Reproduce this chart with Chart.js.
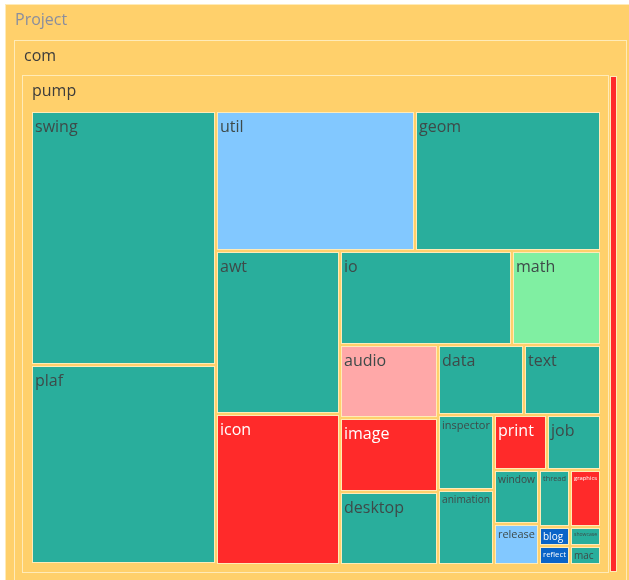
<!DOCTYPE html>
<html>
<head>
<meta charset="utf-8">
<title>Project treemap</title>
<script src="https://cdn.jsdelivr.net/npm/chart.js@4/dist/chart.umd.min.js"></script>
<style>
  html, body { margin: 0; padding: 0; background: #fff; }
  #wrap { width: 629px; height: 580px; position: relative; }
</style>
</head>
<body>
<div id="wrap"><canvas id="chart"></canvas></div>
<script>
// ===== Data (leaves of com/pump) =====
const GROUPS = ["Project", "com", "pump"];

const PUMP_LABELS = ["swing", "plaf", "util", "geom", "awt", "icon", "io", "math",
  "audio", "image", "desktop", "data", "text", "inspector", "animation", "print",
  "job", "window", "release", "thread", "graphics", "blog", "reflect", "showcase", "mac"];
const PUMP_VALUES = [47300, 37190, 28200, 26230, 20420, 18740, 16170, 8410,
  7250, 7200, 7180, 6020, 5430, 4220, 4200, 3020,
  3000, 2430, 1820, 1770, 1760, 595, 594, 593, 592];
const PUMP_KINDS = ["t", "t", "lb", "t", "t", "r", "t", "g",
  "p", "r", "t", "t", "t", "t", "t", "r",
  "t", "t", "lb", "t", "r", "b", "b", "t", "t"];

// com has one more (tiny) leaf next to pump
const COM_LABELS = ["misc"];
const COM_VALUES = [3800];
const COM_KINDS = ["r"];

// ===== Styles =====
const FILL = { t: "#29ae9c", lb: "#82c8ff", g: "#80efa2", p: "#ffa8a8", r: "#ff2a2a", b: "#0a64c8" };
const INK = { t: "#3e4a49", lb: "#3e4a49", g: "#3e4a49", p: "#3e4a49", r: "#ffffff", b: "#ffffff" };
const YELLOW = "#ffd06b";
const CREAM = "#ffebb8";
const FONT = "'Open Sans', sans-serif";
const PAD = 8.5, CAPTION = 35.5;
const ROOT = { x0: 5, y0: 4, x1: 635, y1: 590 };

// ===== Squarified layout (data units) =====
function worst(row, side) {
  const s = row.reduce((a, b) => a + b, 0);
  const mx = Math.max(...row), mn = Math.min(...row);
  return Math.max(side * side * mx / (s * s), (s * s) / (side * side * mn));
}

function squarify(values, r) {
  let x = r.x0, y = r.y0, w = r.x1 - r.x0, h = r.y1 - r.y0;
  const total = values.reduce((a, b) => a + b, 0);
  const areas = values.map(v => v * w * h / total);
  const out = [];
  let i = 0;
  while (i < areas.length) {
    const side = Math.min(w, h);
    const row = [];
    let best = Infinity;
    while (i < areas.length) {
      const cand = row.concat(areas[i]);
      const wr = worst(cand, side);
      if (row.length && wr > best) break;
      row.push(areas[i]); best = wr; i++;
    }
    const sum = row.reduce((a, b) => a + b, 0);
    if (w >= h) {
      const cw = sum / h;
      let yy = y;
      row.forEach(a => { const hh = a / cw; out.push({ x0: x, y0: yy, x1: x + cw, y1: yy + hh }); yy += hh; });
      x += cw; w -= cw;
    } else {
      const rh = sum / w;
      let xx = x;
      row.forEach(a => { const ww = a / rh; out.push({ x0: xx, y0: y, x1: xx + ww, y1: y + rh }); xx += ww; });
      y += rh; h -= rh;
    }
  }
  return out;
}

const inner = (r) => ({ x0: r.x0 + PAD, y0: r.y0 + CAPTION, x1: r.x1 - PAD, y1: r.y1 - PAD });

// ===== Plugin: draws the treemap through the chart's scales =====
const treemapPlugin = {
  id: "treemap",
  afterDatasetsDraw(chart) {
    const { ctx, scales: { x, y } } = chart;
    const px = (r) => ({
      L: Math.round(x.getPixelForValue(r.x0)), R: Math.round(x.getPixelForValue(r.x1)),
      T: Math.round(y.getPixelForValue(r.y0)), B: Math.round(y.getPixelForValue(r.y1))
    });

    function drawGroup(r, name, color) {
      const p = px(r);
      ctx.fillStyle = YELLOW;
      ctx.fillRect(p.L, p.T, p.R - p.L, p.B - p.T);
      ctx.strokeStyle = CREAM; ctx.lineWidth = 1;
      ctx.strokeRect(p.L + 0.5, p.T + 0.5, p.R - p.L - 1, p.B - p.T - 1);
      ctx.fillStyle = color;
      ctx.font = "16px " + FONT;
      ctx.textBaseline = "middle";
      ctx.fillText(name, p.L + 10, p.T + 16);
    }

    function drawLeaf(r, label, kind) {
      const p = px(r);
      const L = p.L + 1, T = p.T + 1, W = p.R - 1 - L, H = p.B - 1 - T;
      ctx.fillStyle = FILL[kind];
      ctx.fillRect(L, T, W, H);
      ctx.strokeStyle = CREAM; ctx.lineWidth = 1;
      ctx.strokeRect(L + 0.5, T + 0.5, W - 1, H - 1);
      if (W < 12) return;
      ctx.font = "16px " + FONT;
      const tw = ctx.measureText(label).width;
      let fs = 16;
      if (tw > W - 6) fs = 16 * (W - 6) / tw;
      fs = Math.min(fs, H / 1.7);
      ctx.font = fs.toFixed(2) + "px " + FONT;
      ctx.fillStyle = INK[kind];
      ctx.textBaseline = "top";
      ctx.fillText(label, L + 3, T + (fs > 14 ? 7 : 4));
    }

    ctx.save();
    drawGroup(ROOT, GROUPS[0], "#8a8e9e");
    const comRect = inner(ROOT);
    drawGroup(comRect, GROUPS[1], "#3c3c3c");
    const pumpTotal = PUMP_VALUES.reduce((a, b) => a + b, 0);
    const comCells = squarify([pumpTotal].concat(COM_VALUES), inner(comRect));
    drawGroup(comCells[0], GROUPS[2], "#3c3c3c");
    const leaves = squarify(PUMP_VALUES, inner(comCells[0]));
    leaves.forEach((r, i) => drawLeaf(r, PUMP_LABELS[i], PUMP_KINDS[i]));
    COM_LABELS.forEach((lab, i) => drawLeaf(comCells[i + 1], lab, COM_KINDS[i]));
    ctx.restore();
  }
};

new Chart(document.getElementById("chart"), {
  type: "scatter",
  data: { datasets: [{ data: [] }] },
  options: {
    responsive: true,
    maintainAspectRatio: false,
    animation: false,
    layout: { padding: 0 },
    plugins: { legend: { display: false }, tooltip: { enabled: false } },
    scales: {
      x: { type: "linear", min: 0, max: 629, display: false },
      y: { type: "linear", min: 0, max: 580, reverse: true, display: false }
    }
  },
  plugins: [treemapPlugin]
});
</script>
</body>
</html>
